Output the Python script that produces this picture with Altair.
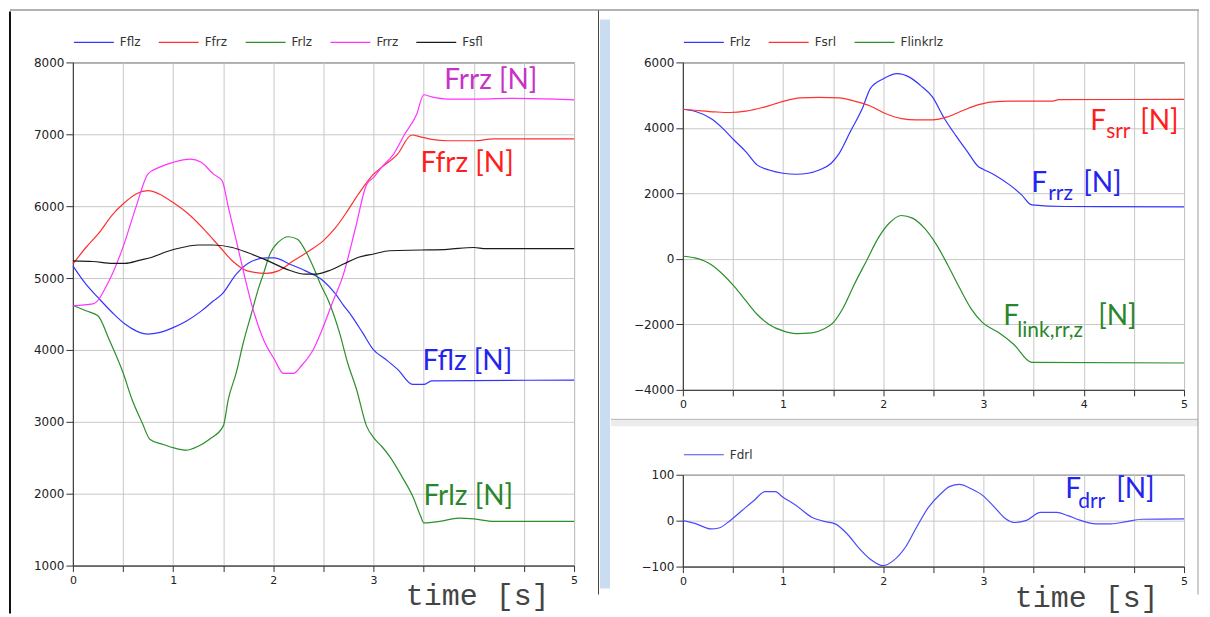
import altair as alt
import pandas as pd

# ---------------- left panel data ----------------
t_fflz = [0, 0.13, 0.25, 0.40, 0.52, 0.63, 0.75, 0.86, 1.0, 1.13, 1.28, 1.40, 1.49, 1.63, 1.78, 1.93, 2.01, 2.16, 2.32, 2.50,
          2.62, 2.70, 2.78, 2.89, 3.0, 3.12, 3.24, 3.39, 3.50, 3.58, 5.0]
v_fflz = [5170, 4915, 4730, 4510, 4360, 4265, 4220, 4240, 4310, 4400, 4540, 4680, 4780, 5055, 5230, 5280, 5280, 5195, 5100, 4960,
          4780, 4620, 4475, 4240, 4000, 3870, 3730, 3520, 3520, 3570, 3580]

t_ffrz = [0, 0.13, 0.25, 0.40, 0.50, 0.63, 0.75, 0.86, 1.0, 1.17, 1.32, 1.47, 1.59, 1.74, 1.93, 2.05, 2.20, 2.36, 2.50, 2.62,
          2.74, 2.85, 3.0, 3.08, 3.24, 3.38, 3.47, 3.58, 3.74, 4.0, 4.2, 5.0]
v_ffrz = [5195, 5425, 5610, 5890, 6030, 6170, 6215, 6170, 6050, 5870, 5660, 5425, 5240, 5100, 5065, 5100, 5240, 5380, 5520, 5700,
          5935, 6170, 6445, 6540, 6725, 6990, 6965, 6930, 6910, 6910, 6935, 6935]

t_frlz = [0, 0.13, 0.25, 0.36, 0.50, 0.59, 0.69, 0.77, 0.90, 1.0, 1.13, 1.25, 1.36, 1.50, 1.55, 1.63, 1.70, 1.78, 1.85, 1.90,
          1.97, 2.05, 2.15, 2.24, 2.32, 2.40, 2.47, 2.55, 2.60, 2.66, 2.74, 2.83, 2.93, 3.0, 3.08, 3.16, 3.28, 3.39, 3.47, 3.50,
          3.66, 3.85, 4.0, 4.2, 5.0]
v_frlz = [4620, 4545, 4475, 4150, 3685, 3310, 2990, 2755, 2685, 2640, 2605, 2660, 2755, 2940, 3310, 3685, 4100, 4500, 4850, 5055,
          5350, 5500, 5575, 5540, 5380, 5150, 4915, 4685, 4500, 4240, 3825, 3450, 2940, 2780, 2660, 2520, 2245, 1965, 1685, 1595,
          1615, 1660, 1650, 1615, 1615]

t_frrz = [0, 0.20, 0.36, 0.50, 0.63, 0.75, 0.86, 1.0, 1.17, 1.28, 1.40, 1.49, 1.55, 1.63, 1.74, 1.78, 1.90, 2.01, 2.10, 2.20,
          2.28, 2.40, 2.50, 2.59, 2.70, 2.82, 2.93, 3.0, 3.08, 3.20, 3.31, 3.43, 3.50, 3.58, 3.74, 4.04, 4.40, 4.80, 5.0]
v_frrz = [4615, 4640, 4960, 5430, 5990, 6450, 6540, 6610, 6655, 6610, 6450, 6350, 5990, 5520, 4870, 4650, 4150, 3870, 3675, 3675,
          3780, 4010, 4330, 4660, 5055, 5700, 6300, 6400, 6540, 6725, 7000, 7280, 7550, 7520, 7490, 7490, 7500, 7490, 7480]

t_fsfl = [0, 0.20, 0.40, 0.52, 0.67, 0.79, 0.94, 1.09, 1.25, 1.40, 1.59, 1.74, 1.93, 2.13, 2.32, 2.43, 2.55, 2.70, 2.85, 3.0,
          3.16, 3.47, 3.74, 4.0, 4.12, 5.0]
v_fsfl = [5240, 5230, 5205, 5205, 5250, 5290, 5370, 5425, 5460, 5460, 5425, 5355, 5250, 5125, 5055, 5055, 5100, 5195, 5290, 5335,
          5380, 5390, 5400, 5425, 5410, 5410]

left_names = ["Fflz", "Ffrz", "Frlz", "Frrz", "Fsfl"]
left_colors = ["#3535ff", "#ff3030", "#2b8f2b", "#ff33ff", "#1a1a1a"]

# ---------------- top-right panel data ----------------
t_rlz = [0, 0.12, 0.28, 0.40, 0.51, 0.63, 0.74, 0.86, 1.0, 1.13, 1.25, 1.36, 1.48, 1.56, 1.67, 1.79, 1.87, 2.0, 2.14, 2.26,
         2.37, 2.49, 2.60, 2.72, 2.84, 2.95, 2.99, 3.11, 3.26, 3.38, 3.48, 3.81, 5.0]
v_rlz = [4570, 4510, 4285, 3980, 3630, 3270, 2870, 2715, 2615, 2585, 2615, 2715, 2920, 3220, 3880, 4590, 5200, 5500, 5655, 5550,
         5300, 4945, 4335, 3780, 3270, 2815, 2745, 2565, 2260, 1955, 1650, 1600, 1590]

t_srl = [0, 0.12, 0.32, 0.47, 0.63, 0.82, 1.0, 1.17, 1.36, 1.56, 1.71, 1.87, 2.02, 2.18, 2.33, 2.49, 2.64, 2.80, 2.95, 3.07,
         3.26, 3.69, 3.75, 5.0]
v_srl = [4570, 4540, 4490, 4470, 4510, 4640, 4810, 4915, 4935, 4915, 4820, 4670, 4440, 4285, 4245, 4245, 4335, 4540, 4710, 4790,
         4820, 4820, 4865, 4870]

t_link = [0, 0.12, 0.28, 0.40, 0.51, 0.63, 0.74, 0.86, 1.0, 1.13, 1.29, 1.40, 1.50, 1.60, 1.71, 1.83, 1.95, 2.06, 2.18, 2.29,
          2.41, 2.53, 2.64, 2.76, 2.88, 2.99, 3.15, 3.30, 3.48, 5.0]
v_link = [80, 30, -170, -475, -830, -1285, -1690, -2000, -2200, -2280, -2260, -2150, -1945, -1490, -780, -70, 640, 1095, 1325, 1245,
          940, 435, -170, -880, -1540, -1945, -2250, -2605, -3160, -3180]

tr_names = ["Frlz", "Fsrl", "Flinkrlz"]
tr_colors = ["#3535ff", "#ff3030", "#2b8f2b"]

# ---------------- bottom-right panel data ----------------
t_drl = [0, 0.12, 0.28, 0.36, 0.47, 0.59, 0.71, 0.82, 0.92, 1.0, 1.13, 1.29, 1.40, 1.52, 1.64, 1.75, 1.87, 2.0, 2.10, 2.22,
         2.33, 2.45, 2.57, 2.66, 2.76, 2.88, 2.99, 3.11, 3.22, 3.30, 3.42, 3.57, 3.73, 3.84, 3.96, 4.12, 4.27, 4.43, 4.58, 5.0]
v_drl = [0, -6, -18, -16, 0, 22, 44, 63, 63, 51, 33, 7, -1, -7, -29, -58, -84, -98, -87, -58,
         -15, 29, 58, 74, 79, 69, 55, 29, 4, -4, 0, 18, 18, 11, 1, -7, -7, -2, 3, 4]
br_names = ["Fdrl"]
br_colors = ["#4a4aff"]

# ---------------- ticks ----------------
x_ticks = [0, 0.5, 1, 1.5, 2, 2.5, 3, 3.5, 4, 4.5, 5]
left_y_ticks = [1000, 1500, 2000, 2500, 3000, 3500, 4000, 4500, 5000, 5500, 6000, 6500, 7000, 7500, 8000]
tr_y_ticks = [-4000, -3000, -2000, -1000, 0, 1000, 2000, 3000, 4000, 5000, 6000]
br_y_ticks = [-100, 0, 100]

# ---------------- annotations ----------------
ann_left_text = ["Frrz [N]", "Ffrz [N]", "Fflz [N]", "Frlz [N]"]
ann_left_t = [3.705, 3.467, 3.487, 3.498]
ann_left_v = [7625, 6476, 3722, 1847]
ann_left_color = ["#c832c8", "#ff1e1e", "#2424f0", "#2a862a"]

ann_tr_big_text = ["F", "[N]", "F", "[N]", "F", "[N]"]
ann_tr_big_t = [4.064, 4.562, 3.476, 3.994, 3.197, 4.143]
ann_tr_big_v = [3927, 3927, 2036, 2036, -2019, -2019]
ann_tr_big_color = ["#ff1e1e", "#ff1e1e", "#2424f0", "#2424f0", "#2a862a", "#2a862a"]
ann_tr_sub_text = ["srr", "rrz", "link,rr,z"]
ann_tr_sub_t = [4.223, 3.645, 3.337]
ann_tr_sub_v = [3683, 1792, -2385]
ann_tr_sub_color = ["#ff1e1e", "#2424f0", "#2a862a"]

ann_br_big_text = ["F", "[N]"]
ann_br_big_t = [3.814, 4.323]
ann_br_big_v = [50, 50]
ann_br_sub_text = ["drr"]
ann_br_sub_t = [3.944]
ann_br_sub_v = [28]
ann_br_color = "#2424f0"


def frame(ts_vs_names):
    parts = [pd.DataFrame({"t": t, "v": v, "s": n}) for t, v, n in ts_vs_names]
    return pd.concat(parts, ignore_index=True)


left_df = frame([(t_fflz, v_fflz, "Fflz"), (t_ffrz, v_ffrz, "Ffrz"), (t_frlz, v_frlz, "Frlz"),
                 (t_frrz, v_frrz, "Frrz"), (t_fsfl, v_fsfl, "Fsfl")])
tr_df = frame([(t_rlz, v_rlz, "Frlz"), (t_srl, v_srl, "Fsrl"), (t_link, v_link, "Flinkrlz")])
br_df = frame([(t_drl, v_drl, "Fdrl")])

GRID = "#c8c8c8"
DARK = "#333333"


def x_axis(title=None, title_x=0, title_y=0):
    if title:
        expr = "datum.value % 1 == 0 && datum.value != 4 ? format(datum.value, 'd') : ''"
    else:
        expr = "datum.value % 1 == 0 ? format(datum.value, 'd') : ''"
    kw = dict(values=x_ticks, labelExpr=expr,
              grid=True, gridColor=GRID, domainColor=DARK, tickColor=DARK, tickSize=6,
              labelFont="DejaVu Sans", labelFontSize=11, labelColor="#222", labelPadding=3,
              labelFlush=False)
    if title:
        kw.update(title=title, titleFont="Liberation Mono", titleFontSize=30, titleFontWeight="normal",
                  titleColor="#444", titleAlign="right", titleBaseline="alphabetic",
                  titleX=title_x, titleY=title_y)
    else:
        kw.update(title=None)
    return alt.Axis(**kw)


def y_axis(values, step):
    return alt.Axis(values=values, labelExpr=f"datum.value % {step} == 0 ? format(datum.value, 'd') : ''",
                    grid=True, gridColor=GRID, domainColor=DARK, tickColor=DARK, tickSize=7,
                    labelFont="DejaVu Sans", labelFontSize=12, labelColor="#222", labelPadding=2,
                    labelFlush=False, title=None)


def legend():
    return alt.Legend(orient="top", title=None, symbolType="stroke", symbolSize=1600, symbolStrokeWidth=1.2,
                      labelFont="DejaVu Sans", labelFontSize=12, labelColor="#333", columnPadding=15,
                      labelOffset=5, offset=14, padding=0)


def lines(df, names, colors, y_dom, y_vals, step, xax):
    return alt.Chart(df).mark_line(strokeWidth=1.2, interpolate="monotone").encode(
        x=alt.X("t:Q", scale=alt.Scale(domain=[0, 5], nice=False, zero=False), axis=xax),
        y=alt.Y("v:Q", scale=alt.Scale(domain=y_dom, nice=False, zero=False), axis=y_axis(y_vals, step)),
        color=alt.Color("s:N", scale=alt.Scale(domain=names, range=colors), legend=legend()),
        detail="s:N",
    )


def texts(txt, ts, vs, colors, size):
    layers = []
    for s, t, v, c in zip(txt, ts, vs, colors):
        layers.append(alt.Chart(pd.DataFrame({"t": [t], "v": [v], "txt": [s]})).mark_text(
            align="left", baseline="alphabetic", font="Lato", fontSize=size, color=c
        ).encode(x="t:Q", y="v:Q", text="txt:N"))
    return layers


def deco(x=None, x2=None, y=None, y2=None, color="#444", width=1):
    enc = {}
    if x is not None:
        enc["x"] = alt.value(x)
    if x2 is not None:
        enc["x2"] = alt.value(x2)
    if y is not None:
        enc["y"] = alt.value(y)
    if y2 is not None:
        enc["y2"] = alt.value(y2)
    return alt.Chart(pd.DataFrame({"d": [0]})).mark_rule(color=color, strokeWidth=width).encode(**enc)


# window-frame decorations (pixel offsets relative to the left plot's origin)
decos = [
    deco(x=-63, x2=1128, y=-52.5, color="#666666", width=1),
    deco(x=-63, y=-51, y2=552, color="#111111", width=2),
    deco(x=526.5, y=-52, y2=533, color="#444444", width=1),
    deco(x=533, y=-43, y2=527, color="#c9dcf0", width=10),
    deco(x=539, x2=1127, y=361, color="#ececec", width=7),
    deco(x=539, x2=1127, y=357.5, color="#b4b4b4", width=1),
    deco(x=1127, y=-52, y2=533, color="#9a9a9a", width=1),
]

left = alt.layer(
    *decos,
    lines(left_df, left_names, left_colors, [1000, 8000], left_y_ticks, 1000, x_axis("time [s]", 477, 39)),
    *texts(ann_left_text, ann_left_t, ann_left_v, ann_left_color, 28),
).properties(width=502, height=504)

top_right = alt.layer(
    lines(tr_df, tr_names, tr_colors, [-4000, 6000], tr_y_ticks, 2000, x_axis()),
    *texts(ann_tr_big_text, ann_tr_big_t, ann_tr_big_v, ann_tr_big_color, 28),
    *texts(ann_tr_sub_text, ann_tr_sub_t, ann_tr_sub_v, ann_tr_sub_color, 21),
).properties(width=502, height=328)

bottom_right = alt.layer(
    lines(br_df, br_names, br_colors, [-100, 100], br_y_ticks, 100, x_axis("time [s]", 476, 40)),
    *texts(ann_br_big_text, ann_br_big_t, ann_br_big_v, [ann_br_color] * 2, 28),
    *texts(ann_br_sub_text, ann_br_sub_t, ann_br_sub_v, [ann_br_color], 21),
).properties(width=502, height=92)

right = alt.vconcat(top_right, bottom_right, spacing=85, bounds="flush").resolve_scale(color="independent")

chart = alt.hconcat(left, right, spacing=109, bounds="flush").resolve_scale(
    color="independent"
).properties(padding=0).configure_view(stroke=DARK, strokeWidth=1)

chart.save("out.html", embed_options={"renderer": "svg", "actions": False})
